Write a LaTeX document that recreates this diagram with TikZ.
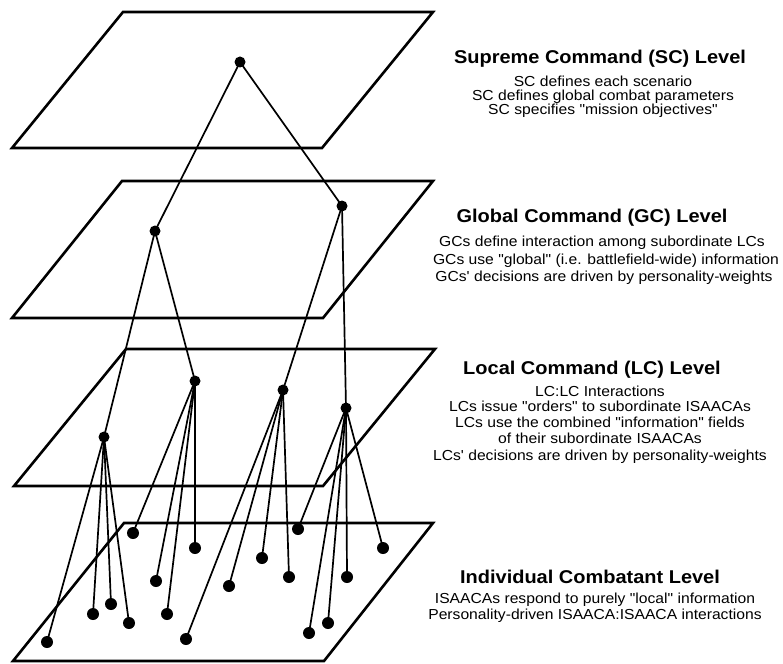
\documentclass[tikz,border=0pt]{standalone}
\usepackage{fontspec}
\newfontfamily\lsansT[FakeStretch=1.08]{Liberation Sans}
\newfontfamily\lsansB[FakeStretch=1.08]{Liberation Sans}
\begin{document}
\begin{tikzpicture}[x=1pt,y=-1pt,
  plane/.style={draw=black,line width=2.6pt,line join=miter},
  link/.style={draw=black,line width=1.7pt},
  dotS/.style={circle,fill=black,inner sep=0pt,minimum size=11pt},
  dotI/.style={circle,fill=black,inner sep=0pt,minimum size=12pt},
  ttl/.style={anchor=base,inner sep=0pt,font=\lsansT\bfseries\fontsize{18.5}{20}\selectfont},
  bdy/.style={anchor=base,inner sep=0pt,font=\lsansB\fontsize{14.5}{16}\selectfont}]
\useasboundingbox (0,0) rectangle (783,663);
% planes
\draw[plane] (12,148) -- (322,148) -- (433,12) -- (123,12) -- cycle;
\draw[plane] (12,318) -- (323,318) -- (433,181) -- (122,181) -- cycle;
\draw[plane] (14,486) -- (323,486) -- (435,349) -- (126,349) -- cycle;
\draw[plane] (13,661) -- (324,661) -- (433,523) -- (124,523) -- cycle;
% SC
\node[dotS] (sc) at (240,62) {};
% GC
\node[dotS] (g1) at (155,231) {};
\node[dotS] (g2) at (342,206) {};
% LC
\node[dotS] (la) at (104,437) {};
\node[dotS] (lb) at (195,381) {};
\node[dotS] (lc) at (283,390) {};
\node[dotS] (ld) at (346,408) {};
% IC
\node[dotI] (i1) at (133,533) {};
\node[dotI] (i2) at (195,548) {};
\node[dotI] (i3) at (156,581) {};
\node[dotI] (i4) at (167,614) {};
\node[dotI] (i5) at (93,614) {};
\node[dotI] (i6) at (111,604) {};
\node[dotI] (i7) at (129,623) {};
\node[dotI] (i8) at (47,642) {};
\node[dotI] (i9) at (186,639) {};
\node[dotI] (i10) at (229,586) {};
\node[dotI] (i11) at (262,558) {};
\node[dotI] (i12) at (289,577) {};
\node[dotI] (i13) at (298,529) {};
\node[dotI] (i14) at (383,548) {};
\node[dotI] (i15) at (347,577) {};
\node[dotI] (i16) at (309,633) {};
\node[dotI] (i17) at (328,623) {};
% links
\draw[link] (sc.center) -- (g1.center);
\draw[link] (sc.center) -- (g2.center);
\draw[link] (g1.center) -- (la.center);
\draw[link] (g1.center) -- (lb.center);
\draw[link] (g2.center) -- (lc.center);
\draw[link] (g2.center) -- (ld.center);
\foreach \t in {i8,i5,i6,i7} \draw[link] (la.center) -- (\t.center);
\foreach \t in {i1,i3,i4,i2} \draw[link] (lb.center) -- (\t.center);
\foreach \t in {i9,i10,i11,i12} \draw[link] (lc.center) -- (\t.center);
\foreach \t in {i13,i16,i17,i15,i14} \draw[link] (ld.center) -- (\t.center);
% texts
\node[ttl] (t1) at (600,64) {Supreme Command (SC) Level};
\node[bdy] (t1a) at (603,87) {SC defines each scenario};
\node[bdy] (t1b) at (603,101) {SC defines global combat parameters};
\node[bdy] (t1c) at (603,115) {SC specifies "mission objectives"};
\node[ttl] (t2) at (592,222) {Global Command (GC) Level};
\node[bdy] (t2a) at (602,246) {GCs define interaction among subordinate LCs};
\node[bdy] (t2b) at (606,264) {GCs use "global" (i.e. battlefield-wide) information};
\node[bdy] (t2c) at (604,281) {GCs' decisions are driven by personality-weights};
\node[ttl] (t3) at (592,374) {Local Command (LC) Level};
\node[bdy] (t3a) at (600,396) {LC:LC Interactions};
\node[bdy] (t3b) at (600,411) {LCs issue "orders" to subordinate ISAACAs};
\node[bdy] (t3c) at (600,427) {LCs use the combined "information" fields};
\node[bdy] (t3d) at (600,443) {of their subordinate ISAACAs};
\node[bdy] (t3e) at (600,460) {LCs' decisions are driven by personality-weights};
\node[ttl] (t4) at (590,583) {Individual Combatant Level};
\node[bdy] (t4a) at (595,603) {ISAACAs respond to purely "local" information};
\node[bdy] (t4b) at (595,619) {Personality-driven ISAACA:ISAACA interactions};
\end{tikzpicture}
\end{document}
